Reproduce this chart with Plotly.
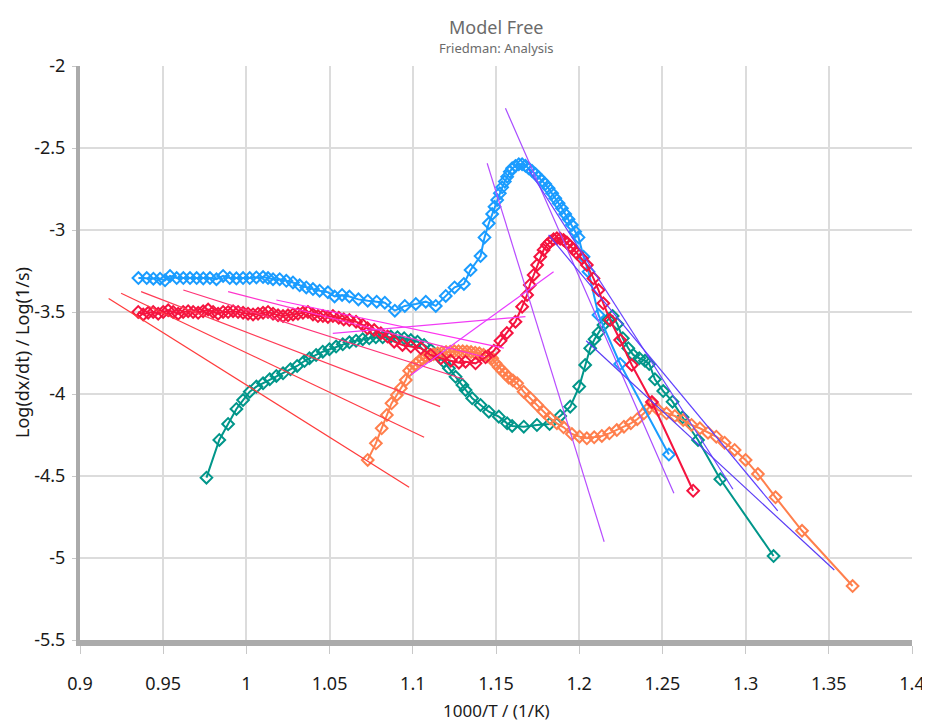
import plotly.graph_objects as go

# ---------------- data ----------------
x_tick_vals = [0.9, 0.95, 1.0, 1.05, 1.1, 1.15, 1.2, 1.25, 1.3, 1.35, 1.4]
x_tick_text = ["0.9", "0.95", "1", "1.05", "1.1", "1.15", "1.2", "1.25", "1.3", "1.35", "1.4"]
y_tick_vals = [-2, -2.5, -3, -3.5, -4, -4.5, -5, -5.5]
y_tick_text = ["-2", "-2.5", "-3", "-3.5", "-4", "-4.5", "-5", "-5.5"]

blue_x = [0.9351, 0.9401, 0.9441, 0.9481, 0.9511, 0.9541, 0.9581, 0.9621, 0.9661, 0.9701,
          0.9741, 0.9781, 0.9820, 0.9860, 0.9900, 0.9940, 0.9980, 1.0020, 1.0060, 1.0100,
          1.0130, 1.0160, 1.0200, 1.0240, 1.0280, 1.0320, 1.0360, 1.0400, 1.0440, 1.0490,
          1.0530, 1.0575, 1.0619, 1.0673, 1.0729, 1.0783, 1.0832, 1.0892, 1.0952, 1.1018,
          1.1078, 1.1138, 1.1198, 1.1251, 1.1307, 1.1347, 1.1407, 1.1431, 1.1457, 1.1477,
          1.1491, 1.1507, 1.1523, 1.1537, 1.1553, 1.1567, 1.1583, 1.1597, 1.1617, 1.1637,
          1.1657, 1.1677, 1.1696, 1.1717, 1.1737, 1.1756, 1.1777, 1.1796, 1.1816, 1.1837,
          1.1856, 1.1876, 1.1896, 1.1916, 1.1936, 1.1956, 1.1976, 1.1996, 1.2026, 1.2056,
          1.2116, 1.2246, 1.2539]
blue_y = [-3.293, -3.293, -3.297, -3.297, -3.307, -3.280, -3.293, -3.293, -3.293, -3.293,
          -3.295, -3.293, -3.300, -3.280, -3.293, -3.295, -3.293, -3.293, -3.289, -3.287,
          -3.293, -3.300, -3.300, -3.310, -3.320, -3.337, -3.350, -3.360, -3.370, -3.380,
          -3.405, -3.396, -3.406, -3.423, -3.431, -3.437, -3.443, -3.492, -3.463, -3.451,
          -3.437, -3.463, -3.402, -3.350, -3.329, -3.244, -3.159, -3.045, -2.959, -2.902,
          -2.858, -2.817, -2.776, -2.740, -2.705, -2.675, -2.645, -2.624, -2.610, -2.599,
          -2.599, -2.608, -2.624, -2.640, -2.659, -2.679, -2.699, -2.720, -2.746, -2.776,
          -2.807, -2.837, -2.868, -2.902, -2.935, -2.970, -3.010, -3.045, -3.163, -3.254,
          -3.518, -3.817, -4.369]

red_x = [0.935, 0.938, 0.941, 0.944, 0.947, 0.950, 0.953, 0.956, 0.959, 0.962,
         0.965, 0.968, 0.971, 0.974, 0.977, 0.980, 0.983, 0.986, 0.989, 0.992,
         0.995, 0.998, 1.001, 1.004, 1.007, 1.010, 1.013, 1.016, 1.019, 1.022,
         1.025, 1.028, 1.031, 1.034, 1.037, 1.040, 1.043, 1.046, 1.049, 1.052,
         1.0555, 1.0585, 1.0619, 1.0659, 1.0699, 1.0728, 1.0768, 1.0808, 1.0848, 1.0888,
         1.0938, 1.0988, 1.1048, 1.1108, 1.1168, 1.1228, 1.1277, 1.1317, 1.1377, 1.1437,
         1.1487, 1.1527, 1.1565, 1.1617, 1.1657, 1.1687, 1.1703, 1.1726, 1.1747, 1.1766,
         1.1786, 1.1806, 1.1826, 1.1846, 1.1866, 1.1886, 1.1906, 1.1926, 1.1946, 1.1966,
         1.1986, 1.2016, 1.2046, 1.2086, 1.2116, 1.2145, 1.2186, 1.2246, 1.2316, 1.2437,
         1.2685]
red_y = [-3.500, -3.515, -3.505, -3.500, -3.510, -3.500, -3.490, -3.500, -3.510, -3.500,
         -3.495, -3.500, -3.505, -3.495, -3.485, -3.500, -3.510, -3.500, -3.500, -3.495,
         -3.500, -3.505, -3.510, -3.515, -3.510, -3.505, -3.500, -3.510, -3.520, -3.525,
         -3.520, -3.515, -3.510, -3.505, -3.500, -3.515, -3.525, -3.525, -3.530, -3.525,
         -3.535, -3.545, -3.549, -3.559, -3.579, -3.599, -3.610, -3.630, -3.650, -3.681,
         -3.701, -3.711, -3.721, -3.762, -3.782, -3.797, -3.809, -3.803, -3.813, -3.776,
         -3.736, -3.676, -3.628, -3.559, -3.468, -3.396, -3.335, -3.274, -3.213, -3.163,
         -3.122, -3.091, -3.071, -3.057, -3.051, -3.053, -3.061, -3.077, -3.098, -3.118,
         -3.142, -3.173, -3.213, -3.295, -3.366, -3.447, -3.549, -3.671, -3.823, -4.049,
         -4.590]

teal_x = [0.9760, 0.9837, 0.9890, 0.9940, 0.9980, 1.0020, 1.0060, 1.0100, 1.0140, 1.0180,
          1.0220, 1.0265, 1.0305, 1.0349, 1.0379, 1.0419, 1.0459, 1.0499, 1.0539, 1.0579,
          1.0619, 1.0659, 1.0699, 1.0738, 1.0778, 1.0819, 1.0868, 1.0908, 1.0948, 1.0988,
          1.1028, 1.1068, 1.1108, 1.1148, 1.1187, 1.1217, 1.1257, 1.1298, 1.1317, 1.1357,
          1.1407, 1.1457, 1.1517, 1.1567, 1.1597, 1.1667, 1.1746, 1.1822, 1.1886, 1.1946,
          1.2000, 1.2036, 1.2066, 1.2092, 1.2116, 1.2146, 1.2175, 1.2201, 1.2229, 1.2262,
          1.2295, 1.2325, 1.2361, 1.2395, 1.2421, 1.2455, 1.2505, 1.2561, 1.2621, 1.2714,
          1.2848, 1.3168]
teal_y = [-4.510, -4.280, -4.183, -4.091, -4.037, -3.986, -3.955, -3.935, -3.910, -3.890,
          -3.874, -3.849, -3.829, -3.799, -3.782, -3.762, -3.742, -3.727, -3.711, -3.697,
          -3.685, -3.675, -3.666, -3.660, -3.654, -3.654, -3.650, -3.654, -3.660, -3.671,
          -3.681, -3.701, -3.732, -3.762, -3.803, -3.843, -3.895, -3.945, -3.976, -4.026,
          -4.067, -4.108, -4.138, -4.179, -4.195, -4.199, -4.189, -4.183, -4.134, -4.077,
          -3.955, -3.823, -3.721, -3.666, -3.626, -3.579, -3.545, -3.524, -3.573, -3.660,
          -3.721, -3.762, -3.782, -3.797, -3.817, -3.910, -3.982, -4.047, -4.142, -4.280,
          -4.520, -4.988]

orange_x = [1.0729, 1.0778, 1.0813, 1.0844, 1.0872, 1.0904, 1.0928, 1.0958, 1.0978, 1.0998,
            1.1018, 1.1038, 1.1058, 1.1078, 1.1100, 1.1125, 1.1150, 1.1175, 1.1200, 1.1225,
            1.1250, 1.1275, 1.1300, 1.1325, 1.1350, 1.1375, 1.1400, 1.1425, 1.1450, 1.1477,
            1.1497, 1.1517, 1.1537, 1.1557, 1.1577, 1.1602, 1.1627, 1.1666, 1.1707, 1.1747,
            1.1786, 1.1826, 1.1866, 1.1906, 1.1956, 1.2002, 1.2046, 1.2090, 1.2136, 1.2181,
            1.2226, 1.2269, 1.2310, 1.2349, 1.2389, 1.2415, 1.2441, 1.2475, 1.2525, 1.2575,
            1.2625, 1.2675, 1.2725, 1.2774, 1.2824, 1.2874, 1.2934, 1.3000, 1.3074, 1.3180,
            1.3339, 1.3643]
orange_y = [-4.402, -4.301, -4.209, -4.128, -4.057, -4.006, -3.965, -3.915, -3.858, -3.837,
            -3.817, -3.799, -3.787, -3.776, -3.766, -3.758, -3.752, -3.747, -3.744, -3.742,
            -3.740, -3.739, -3.740, -3.741, -3.744, -3.748, -3.752, -3.760, -3.770, -3.782,
            -3.813, -3.837, -3.858, -3.878, -3.901, -3.918, -3.935, -3.986, -4.026, -4.067,
            -4.108, -4.148, -4.179, -4.203, -4.244, -4.260, -4.270, -4.264, -4.256, -4.240,
            -4.220, -4.199, -4.179, -4.154, -4.118, -4.087, -4.061, -4.098, -4.118, -4.134,
            -4.159, -4.189, -4.209, -4.236, -4.260, -4.297, -4.341, -4.402, -4.488, -4.630,
            -4.834, -5.171]

# iso-conversional fit lines: [x_start, x_end], [y_start, y_end]
fit_x = [[0.9172, 1.0978], [0.9247, 1.1068], [0.9367, 1.1164], [0.9621, 1.1307],
         [0.9890, 1.1427], [1.0180, 1.1547], [1.0519, 1.1677], [1.0988, 1.1846],
         [1.1447, 1.2150], [1.1557, 1.2569], [1.1696, 1.2924], [1.1816, 1.3193],
         [1.2042, 1.3533]]
fit_y = [[-3.417, -4.569], [-3.386, -4.264], [-3.376, -4.077], [-3.366, -3.910],
         [-3.376, -3.774], [-3.427, -3.720], [-3.630, -3.528], [-3.884, -3.254],
         [-2.593, -4.901], [-2.258, -4.605], [-2.630, -4.581], [-3.030, -4.712],
         [-3.675, -5.073]]
fit_colors = ["#ff3b3b", "#ff3b45", "#ff3b55", "#ff3377",
              "#ff33cc", "#ff33ee", "#f03cf5", "#e83cff",
              "#b84dff", "#a84cff", "#6a44ff", "#5f40ff",
              "#5a3cf5"]

series = [
    ("teal", teal_x, teal_y, "#00968a"),
    ("orange", orange_x, orange_y, "#ff7f4d"),
    ("blue", blue_x, blue_y, "#1a9cff"),
    ("red", red_x, red_y, "#f5143f"),
]

# ---------------- figure ----------------
fig = go.Figure()

for name, xs, ys, col in series:
    fig.add_trace(go.Scatter(
        x=xs, y=ys, mode="lines+markers", name=name,
        line=dict(color=col, width=2),
        marker=dict(symbol="diamond-open", size=9, color=col, line=dict(width=2, color=col)),
        showlegend=False, hoverinfo="x+y"))

for fx, fy, fc in zip(fit_x, fit_y, fit_colors):
    fig.add_trace(go.Scatter(
        x=fx, y=fy, mode="lines", line=dict(color=fc, width=1.2),
        showlegend=False, hoverinfo="skip"))

font_family = "Noto Sans, Open Sans, DejaVu Sans, sans-serif"
PLOT_H = 574.0
PLOT_W = 832.0

# the page body adds an 8 px offset; the figure is sized to compensate
fig.update_layout(
    width=922, height=716,
    margin=dict(l=72, r=18, t=58, b=84, autoexpand=False),
    paper_bgcolor="white", plot_bgcolor="white",
    font=dict(family=font_family, size=18, color="#1a1a1a"),
    annotations=[
        dict(text="Model Free", x=0.5, y=1 + 39 / PLOT_H, xref="paper", yref="paper",
             xanchor="center", yanchor="middle", showarrow=False,
             font=dict(size=18, color="#6b6b6b", family=font_family)),
        dict(text="Friedman: Analysis", x=0.5, y=1 + 18 / PLOT_H, xref="paper", yref="paper",
             xanchor="center", yanchor="middle", showarrow=False,
             font=dict(size=13, color="#6b6b6b", family=font_family)),
        dict(text="1000/T / (1/K)", x=0.5, y=-70 / PLOT_H, xref="paper", yref="paper",
             xanchor="center", yanchor="middle", showarrow=False,
             font=dict(size=17, color="#1a1a1a", family=font_family)),
        dict(text="Log(dx/dt) / Log(1/s)", x=-58 / PLOT_W, y=0.5, xref="paper", yref="paper",
             xanchor="center", yanchor="middle", showarrow=False, textangle=-90,
             font=dict(size=18, color="#1a1a1a", family=font_family)),
    ],
)

fig.update_xaxes(
    range=[0.9, 1.4], tickvals=x_tick_vals, ticktext=x_tick_text, automargin=False,
    showgrid=True, gridcolor="#dcdcdc", gridwidth=1.5, zeroline=False,
    showline=True, linecolor="#ababab", linewidth=6,
    ticks="outside", ticklen=8, tickcolor="#c8c8c8", tickwidth=1,
    ticklabelstandoff=14,
    tickfont=dict(size=18, color="#1a1a1a"),
)
fig.update_yaxes(
    range=[-5.5, -2], tickvals=y_tick_vals, ticktext=y_tick_text, automargin=False,
    showgrid=True, gridcolor="#dcdcdc", gridwidth=1.5, zeroline=False,
    showline=True, linecolor="#ababab", linewidth=4,
    ticks="outside", ticklen=4, tickcolor="#c8c8c8", tickwidth=1,
    ticklabelstandoff=3,
    tickfont=dict(size=18, color="#1a1a1a"),
)

fig.write_html("out.html")
